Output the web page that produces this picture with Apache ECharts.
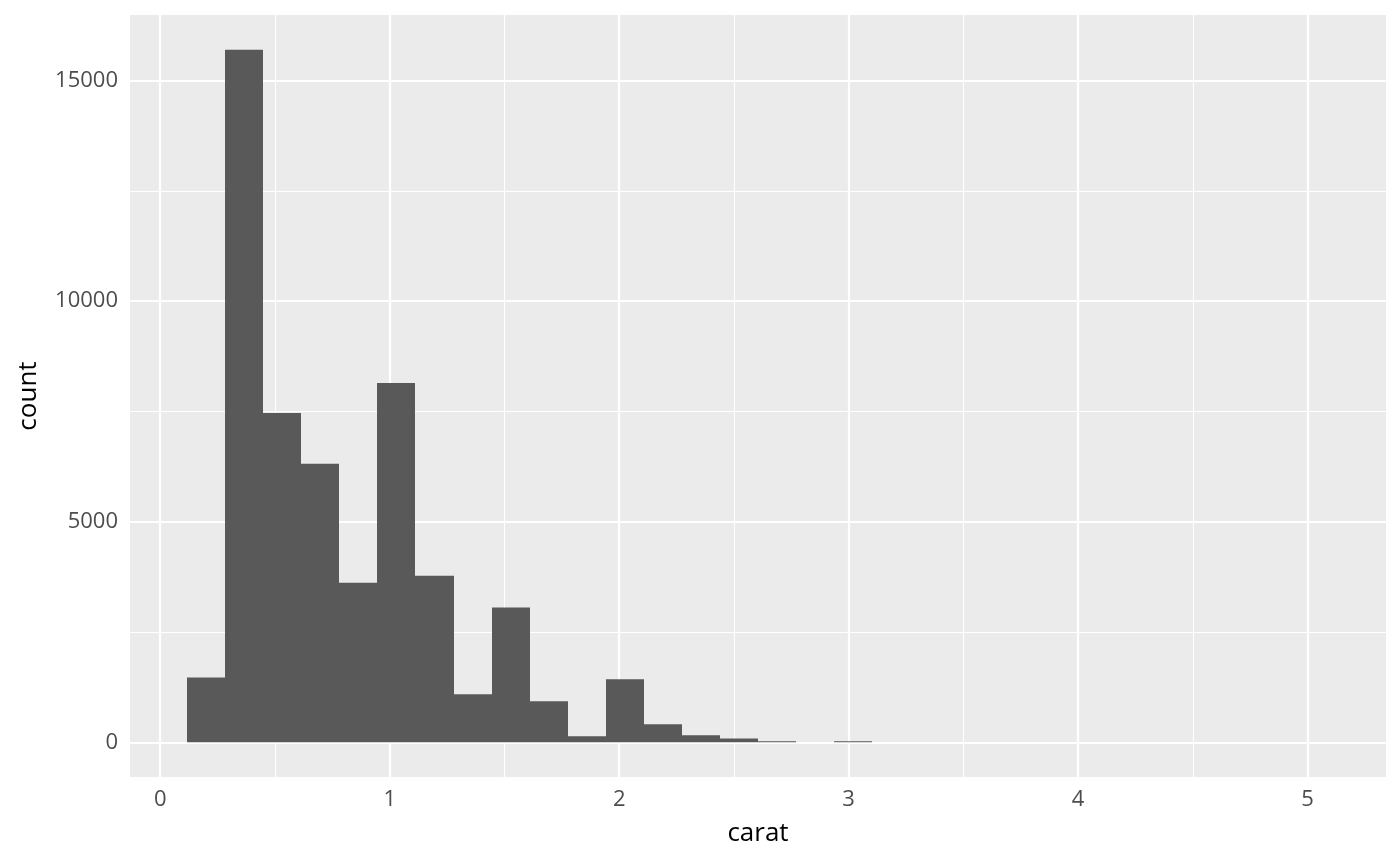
<!DOCTYPE html>
<html>
<head>
<meta charset="utf-8">
<script src="https://cdn.jsdelivr.net/npm/echarts@6/dist/echarts.min.js"></script>
<style>
html,body{margin:0;padding:0;background:#fff;}
#chart{width:1400px;height:866px;}
</style>
</head>
<body>
<div id="chart"></div>
<script>
// Histogram of diamond carat, 30 bins
const binCenters = [0.2,0.36586,0.53172,0.69758,0.86344,1.0293,1.19516,1.36102,1.52688,1.69274,1.8586,2.02446,2.19032,2.35618,2.52204,2.6879,2.85376,3.01962,3.18548,3.35134,3.5172,3.68306,3.84892,4.01478,4.18064,4.3465,4.51236,4.67822,4.84408,5.00994];
const binCounts  = [1470,15700,7466,6312,3620,8145,3778,1088,3059,929,140,1428,408,159,90,28,4,28,5,3,3,2,0,3,1,0,1,0,0,1];
const binWidth = 0.16586;
const xTicks = [0,1,2,3,4,5];
const xMinor = [0.5,1.5,2.5,3.5,4.5];
const yTicks = [0,5000,10000,15000];
const yMinor = [2500,7500,12500];
const xLabel = 'carat';
const yLabel = 'count';

const FONT = '"Open Sans", "Noto Sans", sans-serif';
const chart = echarts.init(document.getElementById('chart'), null, {renderer:'canvas'});

const xMin = -0.1317, xMax = 5.3417;
const yMaxC = Math.max(...binCounts);
const yMin = -0.05*yMaxC, yMax = 1.05*yMaxC;

function vLines(vals, w){ return vals.map(v => ({xAxis:v, lineStyle:{width:w}})); }
function hLines(vals, w){ return vals.map(v => ({yAxis:v, lineStyle:{width:w}})); }

chart.setOption({
  animation:false,
  grid:{left:130, right:14, top:15, bottom:89, show:true, backgroundColor:'#EBEBEB', borderWidth:0,
        containLabel:false, outerBoundsMode:'none'},
  xAxis:{
    type:'value', min:xMin, max:xMax,
    name:xLabel, nameLocation:'middle', nameGap:44,
    nameTextStyle:{fontFamily:FONT, fontSize:26, color:'#000'},
    axisLine:{show:false},
    axisTick:{show:true, customValues:xTicks, length:5, inside:false, lineStyle:{color:'#333333', width:2}},
    axisLabel:{customValues:xTicks, fontFamily:FONT, fontSize:22, color:'#4D4D4D', margin:12,
               formatter:v => String(v)},
    splitLine:{show:false}
  },
  yAxis:{
    type:'value', min:yMin, max:yMax,
    name:yLabel, nameLocation:'middle', nameGap:88,
    nameTextStyle:{fontFamily:FONT, fontSize:26, color:'#000'},
    axisLine:{show:false},
    axisTick:{show:true, customValues:yTicks, length:5, lineStyle:{color:'#333333', width:2}},
    axisLabel:{customValues:yTicks, fontFamily:FONT, fontSize:22, color:'#4D4D4D', margin:12,
               formatter:v => String(v)},
    splitLine:{show:false}
  },
  series:[
    {
      type:'line', data:[], silent:true, z:1,
      markLine:{
        silent:true, symbol:['none','none'], label:{show:false}, animation:false,
        lineStyle:{color:'#FFFFFF', type:'solid'},
        emphasis:{disabled:true},
        data:[].concat(vLines(xMinor,1.1), hLines(yMinor,1.1), vLines(xTicks,2.2), hLines(yTicks,2.2))
      }
    },
    {
      type:'custom', z:5,
      data: binCenters.map((c,i)=>[c, binCounts[i]]),
      renderItem:function(params, api){
        const c = api.value(0), n = api.value(1);
        const p0 = api.coord([c - binWidth/2, n]);
        const p1 = api.coord([c + binWidth/2, 0]);
        const x0 = Math.round(p0[0] + 1e-6), x1 = Math.round(p1[0] + 1e-6);
        return {type:'rect', shape:{x:x0, y:p0[1], width:x1-x0, height:p1[1]-p0[1]},
          style:{fill:'#595959'}};
      },
      encode:{x:0, y:1}
    }
  ]
});
</script>
</body>
</html>
